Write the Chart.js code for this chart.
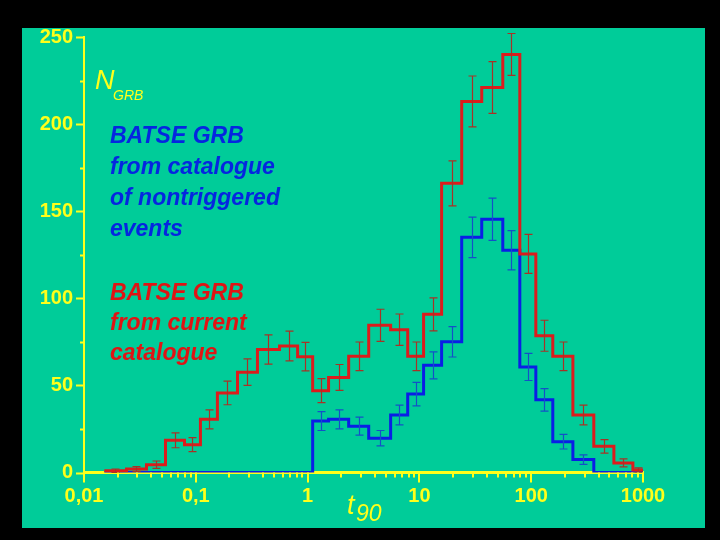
<!doctype html>
<html><head><meta charset="utf-8"><title>BATSE GRB t90</title>
<script src="https://cdn.jsdelivr.net/npm/chart.js"></script>
<style>
  html,body{margin:0;padding:0;background:#000}
  canvas{display:block}
</style>
</head><body>
<canvas id="c" width="720" height="540"></canvas>
<script>
// bin edges in t90 (s)
const edges = [0.0152, 0.024, 0.0362, 0.0536, 0.0792, 0.110, 0.156, 0.236, 0.356, 0.561,
  0.814, 1.11, 1.54, 2.33, 3.52, 5.53, 7.86, 10.9, 15.8, 23.9,
  36.1, 55.7, 79.1, 110, 156, 236, 363, 549, 812, 1000];

// current catalogue (red)
const redCounts = [1, 2, 4.5, 18.5, 16, 30.5, 45.7, 57.6, 70.6, 72.6,
  66.5, 47, 54.6, 66.7, 84.5, 82, 66.7, 90.8, 166, 213,
  221, 240, 125.5, 78.5, 66.7, 33, 15, 5.5, 1.5];
const redErr = [1, 1.4, 2.1, 4.3, 4, 5.5, 6.8, 7.6, 8.4, 8.5,
  8.2, 6.9, 7.4, 8.2, 9.2, 9, 8.2, 9.5, 12.9, 14.6,
  14.9, 12, 11.2, 8.9, 8.2, 5.7, 3.9, 2.3, 1.2];

// nontriggered events (blue)
const blueCounts = [0, 0, 0, 0, 0, 0, 0, 0, 0, 0,
  0, 29.5, 30.5, 26.6, 19.7, 33, 45, 61.5, 75, 135,
  145.4, 127.6, 60.6, 41.7, 17.7, 7.4, 0, 0, 0];
const blueErr = [0, 0, 0, 0, 0, 0, 0, 0, 0, 0,
  0, 5.4, 5.5, 5.2, 4.4, 5.7, 6.7, 7.8, 8.7, 11.6,
  12.1, 11.3, 7.8, 6.5, 4.2, 2.7, 0, 0, 0];

const decades = [0.01, 0.1, 1, 10, 100, 1000];
const xTickLabels = ['0,01', '0,1', '1', '10', '100', '1000'];
const minorSteps = [2, 3, 4, 5, 6, 7, 8, 9];
const yTicks = [0, 25, 50, 75, 100, 125, 150, 175, 200, 225, 250];
const yLabelled = [0, 50, 100, 150, 200, 250];

const blueText = ['BATSE GRB', 'from catalogue', 'of nontriggered', 'events'];
const redText = ['BATSE GRB', 'from current', 'catalogue'];

const YEL = '#ffff1a';
const FONT = 'Liberation Sans, Arial, sans-serif';

function stepPoints(counts){
  // one point per edge, last one repeats the last bin
  return edges.map((e, i) => ({ x: e, y: counts[Math.min(i, counts.length - 1)] }));
}

const bgPlugin = {
  id: 'bg',
  beforeDraw(chart){
    const ctx = chart.ctx;
    ctx.save();
    ctx.fillStyle = '#000';
    ctx.fillRect(0, 0, chart.width, chart.height);
    ctx.fillStyle = '#00cc99';
    ctx.fillRect(22, 28, 683, 500);
    ctx.restore();
  }
};

// tick marks: long on labelled values, short otherwise
const tickPlugin = {
  id: 'tickmarks',
  afterDraw(chart){
    const ctx = chart.ctx, xs = chart.scales.x, ys = chart.scales.y;
    const a = chart.chartArea;
    ctx.save();
    ctx.strokeStyle = YEL;
    ctx.lineWidth = 2;
    ctx.beginPath();
    ys.ticks.forEach(t => {
      const y = Math.round(ys.getPixelForValue(t.value)) + 0.5;
      const len = yLabelled.includes(t.value) ? 8 : 4;
      ctx.moveTo(a.left, y); ctx.lineTo(a.left - len, y);
    });
    xs.ticks.forEach(t => {
      const x = Math.round(xs.getPixelForValue(t.value));
      const len = decades.includes(t.value) ? 10 : 5;
      ctx.moveTo(x, a.bottom); ctx.lineTo(x, a.bottom + len);
    });
    ctx.stroke();
    ctx.restore();
  }
};

const errPlugin = {
  id: 'errbars',
  afterDatasetsDraw(chart){
    const ctx = chart.ctx, xs = chart.scales.x, ys = chart.scales.y;
    ctx.save();
    ctx.lineWidth = 1.2;
    chart.data.datasets.forEach(ds => {
      ctx.strokeStyle = ds.errColor;
      ctx.beginPath();
      ds.counts.forEach((v, i) => {
        const e = ds.err[i];
        if (!e) return;
        const x = Math.round(xs.getPixelForValue(Math.sqrt(edges[i] * edges[i + 1]))) + 0.5;
        const y1 = ys.getPixelForValue(v + e), y2 = ys.getPixelForValue(v - e);
        ctx.moveTo(x, y1); ctx.lineTo(x, y2);
        ctx.moveTo(x - 4, y1); ctx.lineTo(x + 4, y1);
        ctx.moveTo(x - 4, y2); ctx.lineTo(x + 4, y2);
      });
      ctx.stroke();
    });
    ctx.restore();
  }
};

const textPlugin = {
  id: 'texts',
  afterDraw(chart){
    const ctx = chart.ctx;
    ctx.save();
    ctx.textBaseline = 'alphabetic';
    ctx.textAlign = 'left';
    ctx.fillStyle = YEL;
    ctx.font = 'italic 27px ' + FONT;
    ctx.fillText('N', 95, 89);
    ctx.font = 'italic 14px ' + FONT;
    ctx.fillText('GRB', 113, 100);
    ctx.font = 'italic 27px ' + FONT;
    ctx.fillText('t', 347, 514);
    ctx.font = 'italic 23px ' + FONT;
    ctx.fillText('90', 356, 521);

    ctx.font = 'italic bold 23px ' + FONT;
    ctx.fillStyle = '#0526e0';
    blueText.forEach((s, i) => ctx.fillText(s, 110, 143 + i * 31));
    ctx.fillStyle = '#e01414';
    redText.forEach((s, i) => ctx.fillText(s, 110, 300 + i * 30));
    ctx.restore();
  }
};

new Chart(document.getElementById('c'), {
  type: 'line',
  data: {
    datasets: [
      { label: 'current catalogue', data: stepPoints(redCounts), counts: redCounts, err: redErr,
        errColor: '#a83226', borderColor: '#dc1c1c', borderWidth: 3, stepped: true, pointRadius: 0, fill: false },
      { label: 'nontriggered', data: stepPoints(blueCounts), counts: blueCounts, err: blueErr,
        errColor: '#1450c8', borderColor: '#0a1ee6', borderWidth: 3, stepped: true, pointRadius: 0, fill: false }
    ]
  },
  options: {
    responsive: false,
    animation: false,
    layout: { padding: { left: 24, right: 77, top: 37, bottom: 27.5 } },
    plugins: { legend: { display: false }, tooltip: { enabled: false } },
    scales: {
      x: {
        type: 'logarithmic', min: 0.01, max: 1000,
        grid: { display: false, drawTicks: false },
        border: { display: true, color: YEL, width: 3 },
        afterBuildTicks(s){
          const t = [];
          decades.forEach(d => {
            t.push({ value: d });
            if (d < 1000) minorSteps.forEach(m => t.push({ value: d * m }));
          });
          s.ticks = t;
        },
        afterFit(s){ s.height = 40; },
        ticks: {
          autoSkip: false, maxRotation: 0, padding: 12,
          color: YEL, font: { family: FONT, size: 20, weight: 'bold' },
          callback(v){ const i = decades.indexOf(v); return i >= 0 ? xTickLabels[i] : ''; }
        }
      },
      y: {
        min: 0, max: 250,
        grid: { display: false, drawTicks: false },
        border: { display: true, color: YEL, width: 2 },
        afterBuildTicks(s){ s.ticks = yTicks.map(v => ({ value: v })); },
        afterFit(s){ s.width = 60; },
        ticks: {
          autoSkip: false, padding: 11,
          color: YEL, font: { family: FONT, size: 20, weight: 'bold' },
          callback(v){ return yLabelled.includes(v) ? String(v) : ''; }
        }
      }
    }
  },
  plugins: [bgPlugin, errPlugin, tickPlugin, textPlugin]
});
</script>
</body></html>
